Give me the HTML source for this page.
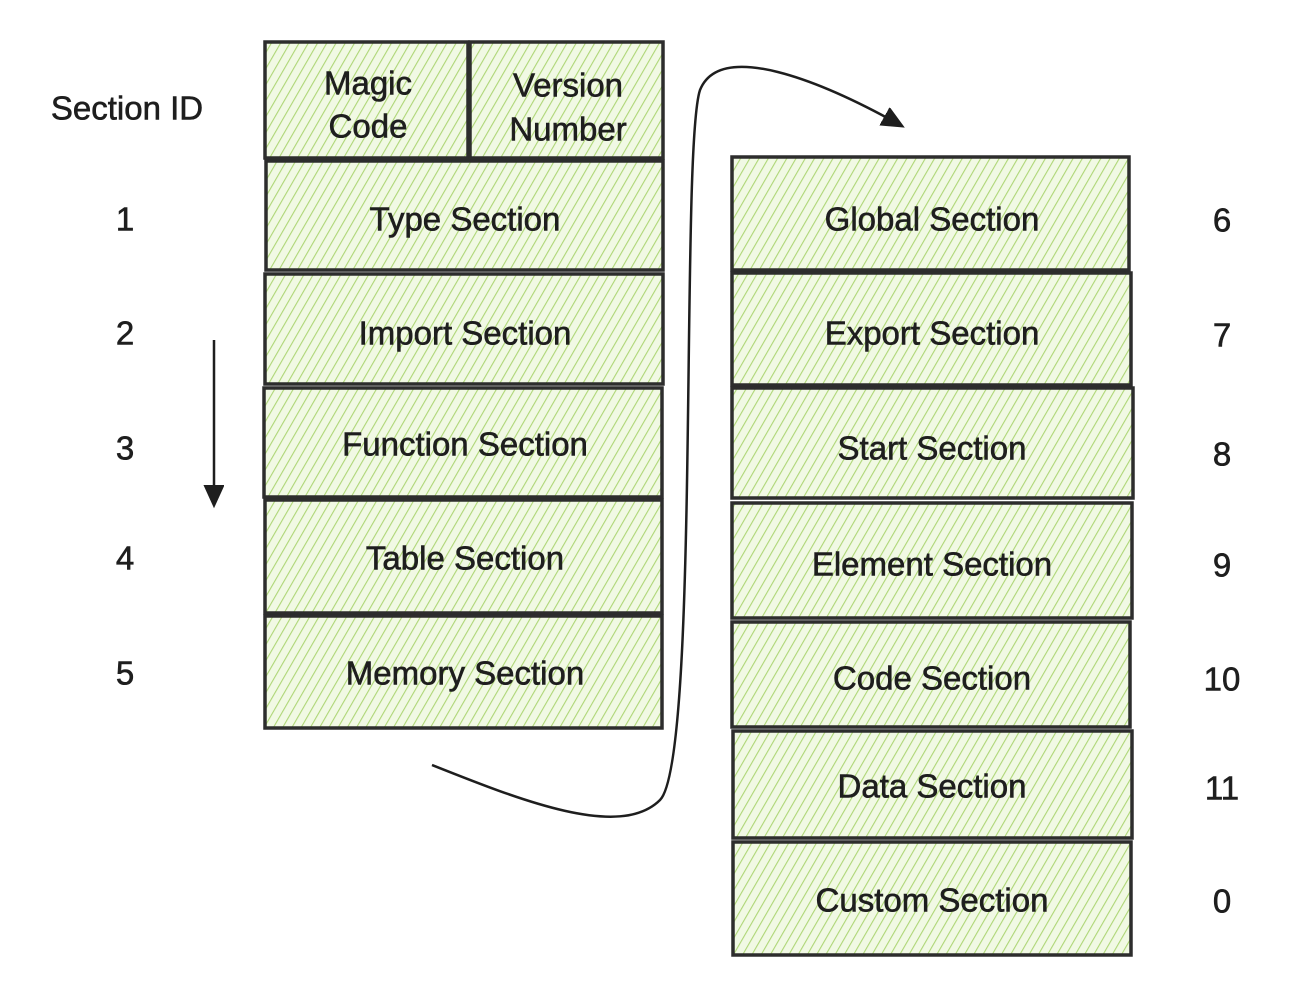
<!DOCTYPE html>
<html><head><meta charset="utf-8"><style>
html,body{margin:0;padding:0;background:#fff}
svg{display:block}
text{font-family:"Liberation Sans",sans-serif;font-size:33px;fill:#1e1e1e;text-anchor:middle;dominant-baseline:central;stroke:#1e1e1e;stroke-width:0.6}
</style></head><body>
<svg width="1308" height="1002" viewBox="0 0 1308 1002" xmlns="http://www.w3.org/2000/svg">
<defs>
<pattern id="h" patternUnits="userSpaceOnUse" width="8" height="8" patternTransform="rotate(30)">
<rect width="8" height="8" fill="#f1f9e4"/>
<line x1="0" y1="0" x2="0" y2="8" stroke="#aed676" stroke-width="2.2"/>
</pattern>
<marker id="a" markerWidth="24" markerHeight="24" refX="20" refY="10" orient="auto" markerUnits="userSpaceOnUse"><path d="M0,0 L22,10 L0,20 Z" fill="#1e1e1e" stroke="#1e1e1e" stroke-width="1"/></marker>
</defs>
<g fill="url(#h)" stroke="#2d2d2d" stroke-width="3.5">
<rect x="265" y="42" width="203" height="116"/>
<rect x="470" y="42" width="193" height="116"/>
<rect x="266" y="161" width="397" height="109"/>
<rect x="265" y="274" width="398" height="110"/>
<rect x="264" y="388" width="398" height="109"/>
<rect x="265" y="500" width="397" height="113"/>
<rect x="265" y="616" width="397" height="112"/>
<rect x="732" y="157" width="397" height="113"/>
<rect x="732" y="273" width="399" height="112"/>
<rect x="732" y="388" width="401" height="110"/>
<rect x="732" y="503" width="400" height="115"/>
<rect x="732" y="622" width="398" height="105"/>
<rect x="733" y="731" width="399" height="107"/>
<rect x="733" y="842" width="398" height="113"/>
</g>
<text x="127" y="108">Section ID</text>
<text x="368" y="83">Magic</text><text x="368" y="126">Code</text>
<text x="568" y="85">Version</text><text x="568" y="129">Number</text>
<text x="465" y="219">Type Section</text>
<text x="465" y="333">Import Section</text>
<text x="465" y="444">Function Section</text>
<text x="465" y="558">Table Section</text>
<text x="465" y="673">Memory Section</text>
<text x="932" y="219">Global Section</text>
<text x="932" y="333">Export Section</text>
<text x="932" y="448">Start Section</text>
<text x="932" y="564">Element Section</text>
<text x="932" y="678">Code Section</text>
<text x="932" y="786">Data Section</text>
<text x="932" y="900">Custom Section</text>
<g style="font-size:38px">
<text x="125" y="219">1</text><text x="125" y="333">2</text><text x="125" y="448">3</text>
<text x="125" y="558">4</text><text x="125" y="673">5</text>
<text x="1222" y="220">6</text><text x="1222" y="335">7</text><text x="1222" y="454">8</text>
<text x="1222" y="565">9</text><text x="1222" y="679">10</text><text x="1222" y="788">11</text>
<text x="1222" y="901">0</text>
</g>
<g fill="none" stroke="#1e1e1e" stroke-width="2.5">
<line x1="214" y1="340" x2="214" y2="505" marker-end="url(#a)"/>
<path d="M432,765 C520,800 620,840 660,800 C700,760 680,150 700,90 C720,40 820,80 902,126" marker-end="url(#a)"/>
</g>
</svg>
</body></html>
